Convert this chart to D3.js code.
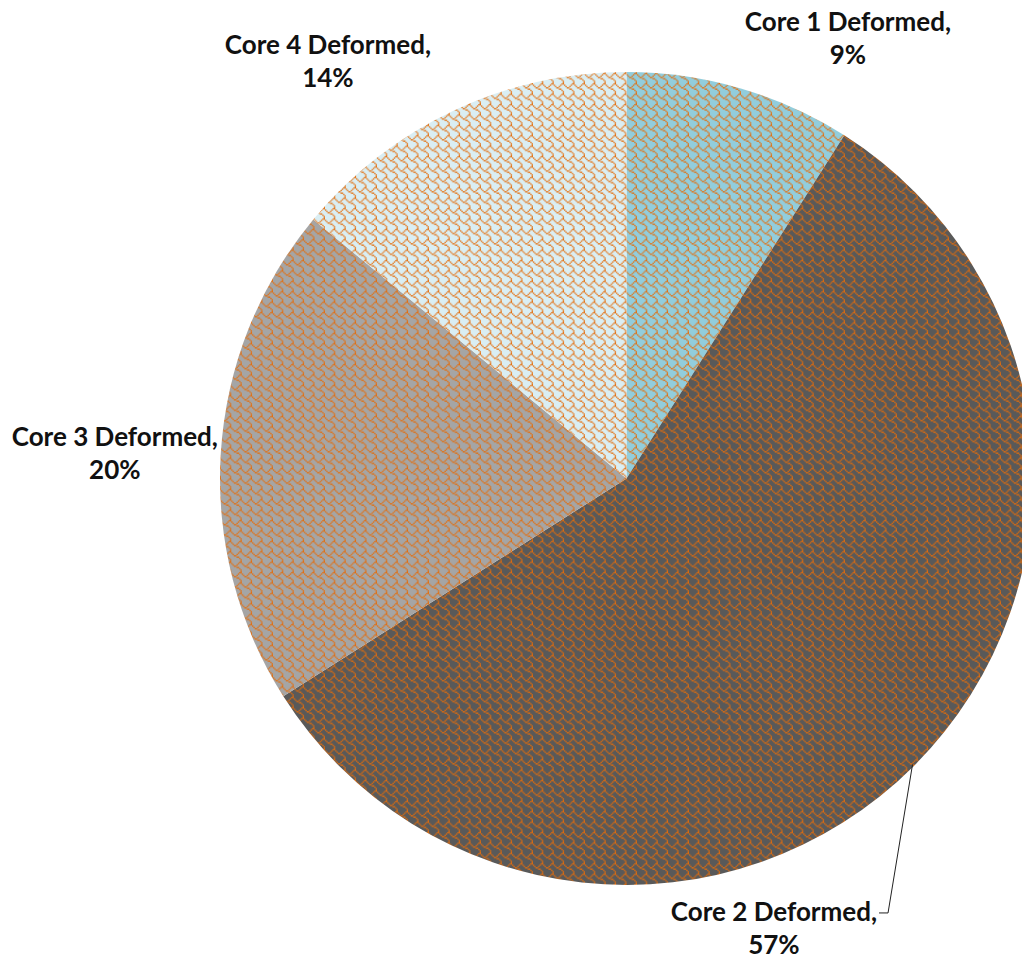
<!DOCTYPE html>
<html>
<head>
<meta charset="utf-8">
<script src="https://cdn.jsdelivr.net/npm/d3@7"></script>
<style>
  html, body { margin: 0; padding: 0; background: #fff; }
  svg { display: block; }
  .lbl { font-family: Lato, "Liberation Sans", sans-serif; font-weight: 700; font-size: 26px; fill: #111; }
</style>
</head>
<body>
<svg id="chart" width="1022" height="961"></svg>
<script>
// Share of deformation per core
const categories = ["Core 1 Deformed", "Core 2 Deformed", "Core 3 Deformed", "Core 4 Deformed"];
const values = [9, 57, 20, 14];
const percentLabels = ["9%", "57%", "20%", "14%"];
const fillColors = ["#92CDDC", "#595959", "#A5A5A5", "#DAEEF3"];
const hatchColor = "#E46C0A";

// 8x8 "shingle" hatch bitmap, one byte per row, MSB on the left
const shingleRows = [0x03, 0x84, 0x48, 0x30, 0x0c, 0x02, 0x01, 0x01];

const W = 1022, H = 961;
const cx = 626.5, cy = 478.5, R = 406.5;
const cell = 1.3;            // size of one hatch pixel
const tile = 8 * cell;

const svg = d3.select("#chart");
const defs = svg.append("defs");

categories.forEach((c, i) => {
  const p = defs.append("pattern")
    .attr("id", "hatch" + i)
    .attr("patternUnits", "userSpaceOnUse")
    .attr("width", tile).attr("height", tile);
  p.append("rect").attr("width", tile).attr("height", tile).attr("fill", fillColors[i]);
  shingleRows.forEach((bits, row) => {
    for (let col = 0; col < 8; col++) {
      if (bits & (0x80 >> col)) {
        p.append("rect")
          .attr("x", col * cell).attr("y", row * cell)
          .attr("width", cell).attr("height", cell)
          .attr("fill", hatchColor);
      }
    }
  });
});

const pie = d3.pie().sort(null).value(d => d);
const arcs = pie(values);
const arc = d3.arc().innerRadius(0).outerRadius(R);

const g = svg.append("g").attr("transform", `translate(${cx},${cy})`);

g.selectAll("path.slice")
  .data(arcs)
  .join("path")
  .attr("class", "slice")
  .attr("d", arc)
  .attr("fill", (d, i) => `url(#hatch${i})`);

// Label placement: distance beyond the rim along the slice's mid-angle, plus a nudge
const labelLayout = [
  { r: R + 45, dx: 95.5, dy: -14 },
  { r: R, dx: -140, dy: 155 },
  { r: R + 20, dx: -86, dy: -6 },
  { r: R + 20, dx: -117, dy: -39 }
];
const lineGap = 33;

arcs.forEach((a, i) => {
  const mid = (a.startAngle + a.endAngle) / 2;
  const L = labelLayout[i];
  const x = Math.sin(mid) * L.r + L.dx;
  const y = -Math.cos(mid) * L.r + L.dy;
  const t = g.append("text").attr("class", "lbl").attr("text-anchor", "middle");
  t.append("tspan").attr("x", x).attr("y", y).text(categories[i] + ",");
  t.append("tspan").attr("x", x).attr("y", y + lineGap).text(percentLabels[i]);

  if (i === 1) {
    // leader line from the rim to the end of the first label line
    const w = t.select("tspan").node().getComputedTextLength();
    const rim = [Math.sin(mid) * (R - 2), -Math.cos(mid) * (R - 2)];
    const ex = x + w / 2 + 2, ey = y - 8;
    g.append("path")
      .attr("d", d3.line()([rim, [ex + 9, ey], [ex, ey]]))
      .attr("fill", "none").attr("stroke", "#222").attr("stroke-width", 1);
  }
});
</script>
</body>
</html>
